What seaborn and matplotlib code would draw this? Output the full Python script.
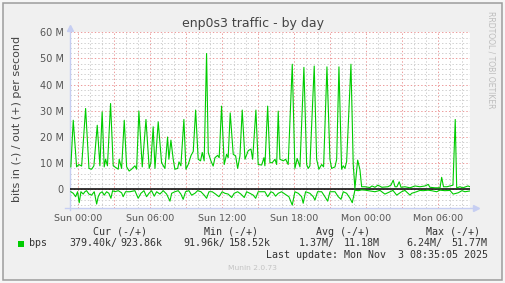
import matplotlib
matplotlib.use("Agg")
import matplotlib.pyplot as plt
import matplotlib.ticker as mticker
from matplotlib.patches import Rectangle
from matplotlib.lines import Line2D
import numpy as np
import pandas as pd
import seaborn as sns

# ---------------- data (hours since Sun 00:00, bits/s) ----------------
out_hours = [-0.63, -0.43, -0.15, 0.04, 0.27, 0.60, 0.88, 1.10, 1.29, 1.57, 1.79, 1.98,
             2.15, 2.27, 2.42, 2.68, 2.90, 3.32, 3.40, 3.60, 3.82, 4.02, 4.23, 4.43,
             4.71, 4.85, 5.04, 5.32, 5.63, 5.90, 6.04, 6.23, 6.38, 6.65, 6.93, 7.21,
             7.43, 7.54, 7.71, 7.90, 8.04, 8.27, 8.38, 8.54, 8.79, 8.96, 9.15, 9.38,
             9.57, 9.77, 9.98, 10.18, 10.32, 10.48, 10.68, 10.82, 11.04, 11.23, 11.38,
             11.60, 11.73, 11.93, 12.15, 12.35, 12.48, 12.65, 12.90, 13.10, 13.27,
             13.46, 13.65, 13.88, 14.15, 14.38, 14.52, 14.79, 14.98, 15.27, 15.46,
             15.54, 15.77, 15.96, 16.15, 16.38, 16.52, 16.65, 16.79, 17.07, 17.27,
             17.48, 17.82, 18.04, 18.23, 18.46, 18.79, 19.02, 19.15, 19.29, 19.65,
             19.85, 20.04, 20.27, 20.43, 20.71, 20.96, 21.10, 21.38, 21.52, 21.71,
             21.93, 22.07, 22.21, 22.35, 22.71, 22.90, 23.04, 23.27, 23.46, 23.60,
             23.88, 24.29, 24.46, 24.71, 24.96, 25.29, 25.79, 26.04, 26.23, 26.38,
             26.54, 26.73, 26.88, 27.21, 27.63, 28.04, 28.46, 28.88, 29.15, 29.29,
             29.71, 30.13, 30.27, 30.42, 30.71, 31.21, 31.40, 31.52, 31.79, 32.04,
             32.46, 32.63]
out_mbps = [8.6, 26.4, 8.6, 9.5, 8.9, 30.9, 8.0, 7.7, 9.0, 24.5, 9.0, 29.6,
            8.6, 11.5, 9.0, 32.8, 9.0, 7.7, 11.5, 8.0, 26.4, 8.6, 7.0, 7.7,
            9.0, 7.7, 29.9, 8.6, 26.7, 8.0, 10.2, 23.9, 8.0, 25.8, 10.2, 8.0,
            20.0, 11.5, 18.8, 11.5, 7.7, 8.0, 10.5, 9.0, 26.7, 7.7, 9.5, 12.9,
            14.5, 30.3, 11.5, 10.9, 14.1, 10.9, 51.9, 14.1, 10.9, 8.9, 12.1,
            13.0, 12.1, 31.8, 9.5, 13.4, 12.1, 29.2, 13.4, 12.8, 8.0,
            12.8, 30.3, 11.5, 14.8, 15.4, 11.5, 30.3, 9.5, 9.3, 12.1,
            9.0, 31.8, 10.2, 10.2, 11.5, 9.5, 29.9, 11.5, 10.9, 11.5,
            9.5, 47.8, 8.0, 11.8, 8.6, 46.6, 9.5, 8.0, 9.0, 47.1,
            11.5, 7.7, 9.5, 8.6, 46.8, 11.5, 8.0, 8.6, 11.5, 46.8,
            7.7, 9.0, 8.0, 10.6, 47.8, 9.5, 0.4, 11.2, 7.5, 1.0,
            1.0, 0.7, 1.3, 0.8, 1.6, 0.8, 1.0, 1.6, 3.5, 1.0,
            1.0, 2.9, 0.8, 1.0, 0.6, 1.3, 1.0, 1.3, 1.9, 0.8,
            0.6, 0.6, 4.6, 1.0, 1.0, 1.6, 26.7, 0.6, 1.0, 0.6,
            1.3, 1.0]

in_hours = [-0.63, -0.43, -0.23, -0.07, 0.07, 0.21, 0.40, 0.54, 0.68, 0.88, 1.10, 1.32,
            1.52, 1.65, 1.79, 1.98, 2.15, 2.35, 2.54, 2.71, 2.85, 3.04, 3.32, 3.60,
            3.73, 3.93, 4.29, 4.71, 4.98, 5.21, 5.46, 5.68, 5.88, 6.10, 6.32, 6.52,
            6.79, 7.07, 7.35, 7.63, 7.77, 8.04, 8.32, 8.54, 8.73, 8.93, 9.21, 9.43,
            9.71, 9.93, 10.21, 10.48, 10.68, 10.88, 11.15, 11.43, 11.71, 11.98, 12.21,
            12.48, 12.77, 12.98, 13.27, 13.54, 13.82, 14.02, 14.29, 14.57, 14.77,
            14.98, 15.32, 15.54, 15.77, 16.04, 16.23, 16.43, 16.65, 16.93, 17.21,
            17.54, 17.82, 18.04, 18.32, 18.60, 18.73, 18.93, 19.29, 19.57, 19.71,
            19.93, 20.27, 20.54, 20.77, 20.96, 21.38, 21.65, 21.88, 22.07, 22.35,
            22.63, 22.82, 23.04, 23.32, 23.60, 23.88, 24.29, 24.71, 25.13, 25.54,
            25.96, 26.21, 26.52, 26.93, 27.21, 27.63, 27.77, 28.18, 28.46, 28.73,
            29.13, 29.43, 29.85, 30.13, 30.54, 30.96, 31.23, 31.65, 31.96, 32.21,
            32.63]
in_mbps = [0.9, 1.5, 2.8, 0.9, 5.1, 0.9, 1.8, 0.9, 0.5, 1.8, 2.2, 0.9,
           5.6, 2.8, 1.5, 0.9, 2.2, 0.9, 1.5, 3.4, 0.5, 0.9, 0.5, 1.3,
           2.8, 0.9, 0.9, 0.5, 3.4, 1.5, 0.5, 2.8, 1.5, 0.5, 2.6, 0.9,
           1.8, 0.5, 1.8, 4.5, 1.5, 0.9, 0.5, 1.8, 3.8, 0.9, 0.5, 2.2,
           1.5, 0.5, 0.9, 2.2, 3.4, 0.9, 0.9, 1.8, 2.8, 0.9, 1.5,
           1.8, 3.1, 1.5, 0.9, 1.8, 3.1, 0.9, 1.5, 2.2, 3.4,
           0.9, 0.9, 0.9, 2.8, 0.9, 1.3, 2.6, 1.5, 0.9, 1.8,
           2.8, 6.0, 0.9, 1.5, 2.8, 5.3, 0.9, 1.5, 2.8, 4.1,
           0.9, 0.9, 2.8, 4.5, 0.9, 0.9, 2.8, 3.8, 0.9, 1.5,
           3.4, 5.1, 0.3, 0.5, 0.2, 0.3, 0.6, 0.9, 0.4, 1.8,
           0.9, 0.4, 2.2, 0.9, 0.4, 2.2, 1.5, 0.9, 0.4, 0.5,
           0.3, 0.5, 0.9, 0.3, 0.5, 0.4, 1.8, 1.3, 0.5, 0.9,
           0.6]

x_tick_hours = [0, 6, 12, 18, 24, 30]
x_tick_labels = ["Sun 00:00", "Sun 06:00", "Sun 12:00", "Sun 18:00", "Mon 00:00", "Mon 06:00"]
y_tick_values = [0, 10e6, 20e6, 30e6, 40e6, 50e6, 60e6]
y_tick_labels = ["0", "10 M", "20 M", "30 M", "40 M", "50 M", "60 M"]

legend_headers = ["Cur (-/+)", "Min (-/+)", "Avg (-/+)", "Max (-/+)"]
legend_in = ["379.40k/", "91.96k/", "1.37M/", "6.24M/"]
legend_out = ["923.86k", "158.52k", "11.18M", "51.77M"]

# ---------------- figure ----------------
W, H = 505, 283
plt.rcParams["lines.scale_dashes"] = False
plt.rcParams["font.family"] = ["DejaVu Sans"]
fig = plt.figure(figsize=(W / 100, H / 100), dpi=100, facecolor="#F6F6F6")


def fx(x):
    return x / W


def fy(y):
    return 1 - y / H


fig.patches.append(Rectangle((fx(3), fy(280)), fx(499), 277 / H, transform=fig.transFigure,
                             facecolor="#F0F0F0", edgecolor="#9C9C9C", linewidth=1.1, zorder=-5))

ax = fig.add_axes([fx(70), fy(207.7), fx(400), 175.4 / H])
ax.set_zorder(2)
ax.set_facecolor("white")

df_out = pd.DataFrame({"hours": out_hours, "bps": np.array(out_mbps) * 1e6})
df_in = pd.DataFrame({"hours": in_hours, "bps": -np.array(in_mbps) * 1e6})

green = "#00CC00"
sns.lineplot(data=df_out, x="hours", y="bps", color=green, linewidth=0.8, estimator=None,
             sort=False, ax=ax, zorder=5)
sns.lineplot(data=df_in, x="hours", y="bps", color=green, linewidth=0.8, estimator=None,
             sort=False, ax=ax, zorder=5)

ax.set_xlim(-0.7, 32.63)
ax.set_ylim(-7e6, 60e6)

# grids
ax.xaxis.set_major_locator(mticker.MultipleLocator(3))
ax.xaxis.set_minor_locator(mticker.MultipleLocator(1))
ax.yaxis.set_major_locator(mticker.MultipleLocator(10e6))
ax.yaxis.set_minor_locator(mticker.MultipleLocator(2e6))
ax.grid(which="minor", color="#CFCFCF", linestyle=(0, (1, 1.5)), linewidth=0.7)
ax.grid(which="major", color="#EC9A9A", linestyle=(0, (1, 1.5)), linewidth=0.7)
ax.set_axisbelow(True)


def xfmt(v, pos):
    for h, lab in zip(x_tick_hours, x_tick_labels):
        if abs(v - h) < 1e-6:
            return lab
    return ""


def yfmt(v, pos):
    for t, lab in zip(y_tick_values, y_tick_labels):
        if abs(v - t) < 1:
            return lab
    return ""


ax.xaxis.set_major_formatter(mticker.FuncFormatter(xfmt))
ax.yaxis.set_major_formatter(mticker.FuncFormatter(yfmt))
ax.tick_params(which="both", length=0)
ax.tick_params(axis="x", pad=4.2, labelsize=6.8, labelcolor="#555555")
ax.tick_params(axis="y", pad=4.5, labelsize=7.0, labelcolor="#555555")
ax.set_xlabel("")
ax.set_ylabel("")

# zero line
ax.axhline(0, color="black", linewidth=1.1, zorder=4)

for s in ax.spines.values():
    s.set_visible(False)
axis_col = "#C6CEF2"
ax.add_line(Line2D([0, 0], [-0.015, 1.015], transform=ax.transAxes, color=axis_col,
                   linewidth=1.0, clip_on=False, zorder=3))
ax.add_line(Line2D([-0.012, 1.01], [0, 0], transform=ax.transAxes, color=axis_col,
                   linewidth=1.0, clip_on=False, zorder=3))
ax.plot([0], [1.025], marker="^", markersize=4, color=axis_col, transform=ax.transAxes,
        clip_on=False, zorder=3)
ax.plot([1.0145], [0], marker=">", markersize=4, color=axis_col, transform=ax.transAxes,
        clip_on=False, zorder=3)

# titles
fig.text(fx(252.5), fy(23), "enp0s3 traffic - by day", ha="center", va="center",
         fontsize=9.0, color="#444444")
fig.text(fx(17), fy(118.5), "bits in (-) / out (+) per second", ha="center", va="center",
         rotation=90, fontsize=8.0, color="#444444")
fig.text(fx(491.3), fy(60), "RRDTOOL / TOBI OETIKER", ha="center", va="center",
         rotation=270, fontsize=5.5, color="#BDBDBD")

# legend
mono = "DejaVu Sans Mono"
lc = "#333333"
hdr_x = [92.8, 204.5, 315.5, 426.2]
for x, t in zip(hdr_x, legend_headers):
    fig.text(fx(x), fy(231.7), t, ha="left", va="center", fontsize=7.2, family=mono, color=lc)

fig.patches.append(Rectangle((fx(18), fy(246.5)), fx(6), 6 / H, transform=fig.transFigure,
                             facecolor=green, edgecolor="none", zorder=3))
fig.text(fx(29.5), fy(243.3), "bps", ha="left", va="center", fontsize=7.2, family=mono, color=lc)
in_x = [69.5, 183.8, 298.8, 406.2]
out_x = [162.8, 271.2, 379.5, 487.8]
for x, t in zip(in_x, legend_in):
    fig.text(fx(x), fy(243.3), t, ha="left", va="center", fontsize=7.2, family=mono, color=lc)
for x, t in zip(out_x, legend_out):
    fig.text(fx(x), fy(243.3), t, ha="right", va="center", fontsize=7.2, family=mono, color=lc)

fig.text(fx(487.8), fy(255), "Last update: Mon Nov  3 08:35:05 2025", ha="right", va="center",
         fontsize=7.2, family=mono, color=lc)
fig.text(fx(277), fy(268), "Munin 2.0.73", ha="right", va="center", fontsize=5.4,
         color="#C4C4C4")

fig.savefig("out.png", dpi=100, facecolor=fig.get_facecolor())
